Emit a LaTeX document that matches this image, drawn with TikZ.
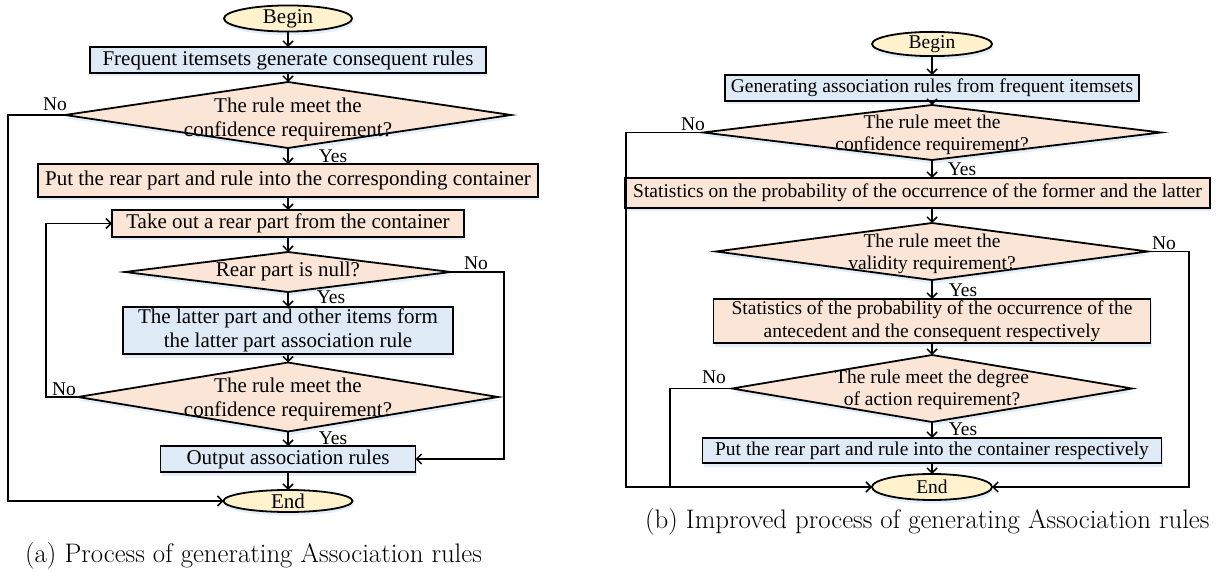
\documentclass[tikz,border=0pt]{standalone}
\usepackage{fontspec}
\newfontfamily\chartfont{Liberation Serif}
\usetikzlibrary{shapes.geometric,arrows.meta,shadows}
\definecolor{boxblue}{HTML}{DEEBF7}
\definecolor{boxpeach}{HTML}{FBE5D6}
\definecolor{termyellow}{HTML}{FFF2CC}
\definecolor{hazeblue}{HTML}{9DC3E6}
\begin{document}
\begin{tikzpicture}[x=1pt,y=-1pt,
  softshadow/.style={general shadow={fill=hazeblue,opacity=0.28,shadow xshift=1pt,shadow yshift=-3.5pt}},
  shapebase/.style={draw=black,line width=1.8pt,inner sep=0pt,outer sep=0pt,softshadow,align=center},
  fontA/.style={font=\chartfont\fontsize{21}{24}\selectfont},
  fontB/.style={font=\chartfont\fontsize{19.5}{22.5}\selectfont},
  bluebox/.style={shapebase,rectangle,fill=boxblue},
  peachbox/.style={shapebase,rectangle,fill=boxpeach},
  decision/.style={shapebase,diamond,fill=boxpeach},
  terminal/.style={shapebase,ellipse,fill=termyellow},
  plain/.style={inner sep=0pt,outer sep=0pt,align=center},
  tag/.style={inner sep=0pt,outer sep=0pt,font=\chartfont\fontsize{19.5}{22}\selectfont},
  conn/.style={line width=1.6pt,-{Straight Barb[length=5pt,width=10pt,line width=1.5pt]}},
  bare/.style={line width=1.6pt},
  caption/.style={inner sep=0pt,anchor=base west,font=\fontsize{26.8}{30}\selectfont}
]
\useasboundingbox (0,0) rectangle (1224,572);

% ---------------- (a) original process ----------------
\begin{scope}[fontA]
\node[terminal,minimum width=128pt,minimum height=23pt] (beginA) at (288,18.5) {Begin};
\node[bluebox,minimum width=396pt,minimum height=26pt] (genA) at (288,60) {Frequent itemsets generate consequent rules};
\node[decision,minimum width=446pt,minimum height=66pt] (confA) at (288,115) {};
\node[plain] (confAt) at (288,119) {The rule meet the\\confidence requirement?};
\node[peachbox,minimum width=500pt,minimum height=33pt] (putA) at (288,180.5) {Put the rear part and rule into the corresponding container};
\node[peachbox,minimum width=352pt,minimum height=27pt] (takeA) at (288,223.5) {Take out a rear part from the container};
\node[decision,minimum width=326pt,minimum height=40pt] (nullA) at (288,272) {};
\node[plain] (nullAt) at (288,271) {Rear part is null?};
\node[bluebox,minimum width=330pt,minimum height=47pt] (formA) at (288,330.5) {The latter part and other items form\\the latter part association rule};
\node[decision,minimum width=420pt,minimum height=69pt] (conf2A) at (288,397) {};
\node[plain] (conf2At) at (288,399) {The rule meet the\\confidence requirement?};
\node[bluebox,minimum width=255pt,minimum height=26pt] (outA) at (288,459) {Output association rules};
\node[terminal,minimum width=129pt,minimum height=22pt] (endA) at (288,501) {End};
\end{scope}

\node[tag] (noA1) at (55,104) {No};
\node[tag] (yesA1) at (333,156) {Yes};
\node[tag] (noA2) at (476,263) {No};
\node[tag] (yesA2) at (331,297.5) {Yes};
\node[tag] (noA3) at (64,389) {No};
\node[tag] (yesA3) at (333,438) {Yes};

\coordinate (railAL) at (8,0);
\coordinate (railAM) at (46,0);
\coordinate (railAR) at (504,0);

\draw[conn] (beginA) -- (genA);
\draw[conn] (genA) -- (confA.north);
\draw[conn] (confA.south) -- (putA);
\draw[conn] (putA) -- (takeA);
\draw[conn] (takeA) -- (nullA.north);
\draw[conn] (nullA.south) -- (formA);
\draw[conn] (formA) -- (conf2A.north);
\draw[conn] (conf2A.south) -- (outA);
\draw[conn] (outA) -- (endA);
\draw[conn] (confA.west) -- (railAL |- confA.west) |- (endA.west);
\draw[conn] (nullA.east) -- (railAR |- nullA.east) |- (outA.east);
\draw[conn] (conf2A.west) -- (railAM |- conf2A.west) |- (takeA.west);

\node[caption] (capA) at (25,562) {(a) Process of generating Association rules};

% ---------------- (b) improved process ----------------
\begin{scope}[fontB]
\node[terminal,minimum width=120pt,minimum height=21pt] (beginB) at (932,44) {Begin};
\node[bluebox,minimum width=414pt,minimum height=26pt] (genB) at (932,88) {Generating association rules from frequent itemsets};
\node[decision,minimum width=458pt,minimum height=55pt] (confB) at (932,132.5) {};
\node[plain] (confBt) at (932,135) {The rule meet the\\confidence requirement?};
\node[peachbox,minimum width=585pt,minimum height=30pt] (statB) at (917.5,193) {Statistics on the probability of the occurrence of the former and the latter};
\node[decision,minimum width=432pt,minimum height=57pt] (validB) at (932,251.5) {};
\node[plain] (validBt) at (932,254) {The rule meet the\\validity requirement?};
\node[peachbox,minimum width=437pt,minimum height=44pt] (probB) at (932,321) {Statistics of the probability of the occurrence of the\\antecedent and the consequent respectively};
\node[decision,minimum width=400pt,minimum height=67pt] (actB) at (932,388.5) {};
\node[plain] (actBt) at (932,390) {The rule meet the degree\\of action requirement?};
\node[bluebox,minimum width=459pt,minimum height=25pt] (putB) at (932,450.5) {Put the rear part and rule into the container respectively};
\node[terminal,minimum width=120pt,minimum height=26pt] (endB) at (932,487) {End};
\end{scope}

\node[tag] (noB1) at (693,124) {No};
\node[tag] (yesB1) at (962,169) {Yes};
\node[tag] (noB2) at (1164,243) {No};
\node[tag] (yesB2) at (963,290) {Yes};
\node[tag] (noB3) at (714,377) {No};
\node[tag] (yesB3) at (963,429) {Yes};

\coordinate (railBL) at (626,0);
\coordinate (railBM) at (670,0);
\coordinate (railBR) at (1189,0);

\draw[conn] (beginB) -- (genB);
\draw[conn] (genB) -- (confB.north);
\draw[conn] (confB.south) -- (confB.south |- statB.north);
\draw[conn] (confB.south |- statB.south) -- (validB.north);
\draw[conn] (validB.south) -- (probB);
\draw[conn] (probB) -- (actB.north);
\draw[conn] (actB.south) -- (putB);
\draw[conn] (putB) -- (endB);
\draw[conn] (confB.west) -- (railBL |- confB.west) |- (endB.west);
\draw[conn] (validB.east) -- (railBR |- validB.east) |- (endB.east);
\draw[bare] (actB.west) -- (railBM |- actB.west) -- (railBM |- endB.west);

\node[caption] (capB) at (645,528) {(b) Improved process of generating Association rules};
\end{tikzpicture}
\end{document}
